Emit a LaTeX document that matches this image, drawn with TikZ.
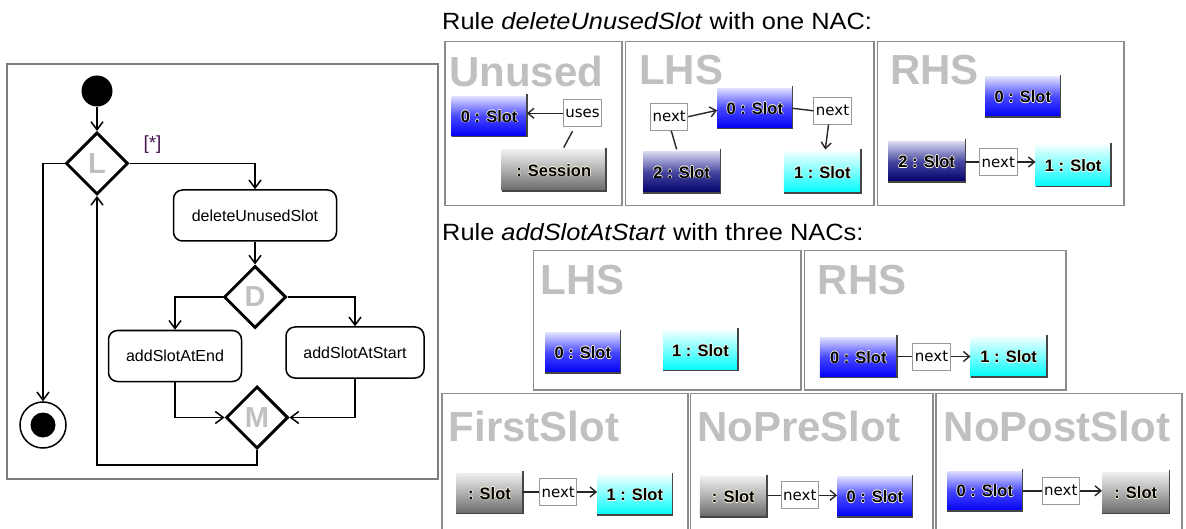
\documentclass[tikz,border=0pt]{standalone}
\usepackage{fontspec}
\setmainfont{Liberation Sans}
\newfontfamily\dv{DejaVu Sans}
\newfontfamily\rulefont[FakeStretch=1.08]{Liberation Sans}
\usetikzlibrary{shapes.geometric,arrows.meta}

\definecolor{framegray}{RGB}{125,125,125}
\definecolor{panelgray}{RGB}{140,140,140}
\definecolor{titlegray}{RGB}{192,192,192}
\definecolor{guardcol}{RGB}{70,20,80}
\definecolor{bevelcol}{RGB}{70,70,70}
\definecolor{haloc}{RGB}{255,250,225}

% text with a thin light glow, as the graph editor draws node labels
\newcommand\halo[1]{{%
  \rlap{\hskip0.7pt\textcolor{haloc}{#1}}%
  \rlap{\hskip-0.7pt\textcolor{haloc}{#1}}%
  \rlap{\raisebox{0.7pt}{\textcolor{haloc}{#1}}}%
  \rlap{\raisebox{-0.7pt}{\textcolor{haloc}{#1}}}%
  #1}}

% raised right and bottom edge of a graph node
\newcommand\bevel[1]{\draw[bevel] ([yshift=2pt]#1.north east) -- (#1.south east) -- (#1.south west);}

\tikzset{
  flow/.style={draw=black, line width=1.5pt},
  flowarr/.style={flow, -{Straight Barb[length=8pt,width=12pt]}},
  act/.style={draw, rounded corners=9pt, line width=1.5pt, minimum height=51pt,
    inner sep=0pt, font=\fontsize{16}{19}\selectfont},
  dec/.style={diamond, draw, aspect=1, line width=3pt, minimum size=62pt,
    inner sep=0pt, font=\bfseries\fontsize{29}{31}\selectfont, text=titlegray},
  panel/.style={draw=panelgray, line width=1.6pt},
  ptitle/.style={anchor=base west, inner sep=0pt,
    font=\bfseries\fontsize{42}{46}\selectfont, text=titlegray},
  rtitle/.style={anchor=base west, inner sep=0pt,
    font=\rulefont\fontsize{23.5}{27}\selectfont},
  slot/.style={inner sep=0pt, minimum width=75pt, minimum height=40pt,
    font=\bfseries\fontsize{16.5}{18}\selectfont},
  blueslot/.style={slot, top color={rgb,255:red,222;green,222;blue,255},
    bottom color={rgb,255:red,0;green,0;blue,245},
    middle color={rgb,255:red,70;green,70;blue,255}},
  navyslot/.style={slot, top color={rgb,255:red,215;green,215;blue,240},
    bottom color={rgb,255:red,0;green,0;blue,105},
    middle color={rgb,255:red,70;green,70;blue,160}},
  cyanslot/.style={slot, top color={rgb,255:red,238;green,255;blue,255},
    bottom color={rgb,255:red,0;green,250;blue,250},
    middle color={rgb,255:red,120;green,255;blue,255}},
  grayslot/.style={slot, minimum width=66pt, top color={rgb,255:red,238;green,238;blue,238},
    bottom color={rgb,255:red,105;green,105;blue,105},
    middle color={rgb,255:red,175;green,175;blue,175}},
  bevel/.style={draw=bevelcol, line width=1.6pt},
  lab/.style={draw=black!40, fill=white, line width=0.8pt, inner xsep=2pt,
    inner ysep=0pt, minimum height=27pt, font=\dv\fontsize{15}{17}\selectfont},
  rel/.style={draw=black!85, line width=1.4pt},
  relarr/.style={rel, -{Straight Barb[length=6pt,width=10pt]}},
}

\begin{document}
\begin{tikzpicture}[x=1pt,y=-1pt]
\useasboundingbox (0,0) rectangle (1186,529);
\clip (0,0) rectangle (1186,529);

% ---------------- activity diagram ----------------
\draw[draw=framegray, line width=2pt] (7,64) rectangle (438,479);

\node[circle, fill=black, inner sep=0pt, minimum size=31pt] (start) at (97,91) {};
\node[dec] (L) at (97,163.5) {L};
\node[act, minimum width=163pt] (del) at (255,215.5) {deleteUnusedSlot};
\node[dec] (D) at (255,297) {D};
\node[act, minimum width=133pt] (aE) at (175,356) {addSlotAtEnd};
\node[act, minimum width=138pt] (aS) at (355,352.5) {addSlotAtStart};
\node[dec] (M) at (257,417.5) {M};
\node[circle, draw, line width=1.5pt, inner sep=0pt, minimum size=46pt] (fin) at (43,425) {};
\node[circle, fill=black, inner sep=0pt, minimum size=25pt] (finDot) at (fin.center) {};
\node[font=\fontsize{19}{22}\selectfont, text=guardcol, inner sep=0pt] (guard) at (152.5,145) {[*]};

\draw[flowarr] (start) -- (L.north);
\draw[flowarr] (L.east) -| (del.north);
\draw[flowarr] (del.south) -- (D.north);
\draw[flowarr] (D.west) -| (aE.north);
\draw[flowarr] (D.east) -| (aS.north);
\draw[flowarr] (aE.south) |- (M.west);
\draw[flowarr] (aS.south) |- (M.east);
\draw[flowarr] (M.south) -- ++(0,15) -| (L.south);
\draw[flowarr] (L.west) -| (fin.north);

% ---------------- rule deleteUnusedSlot ----------------
\node[rtitle] (t1) at (442,29.3) {Rule \textit{deleteUnusedSlot} with one NAC:};

\draw[panel] (445,41.7) rectangle (622,205.5);
\draw[panel] (625.5,41.7) rectangle (874,205.5);
\draw[panel] (877.5,41.7) rectangle (1124,205.5);

% NAC Unused
\node[ptitle] (uT) at (449,86.7) {Unused};
\node[blueslot] (u0) at (489.2,116.3) {\halo{0 : Slot}};
\node[grayslot, minimum width=104pt, minimum height=41pt] (uS) at (553.7,170.3) {\halo{: Session}};
\bevel{u0}\bevel{uS}
\node[lab] (uU) at (582.5,113.3) {uses};
\draw[relarr] (uU.west) -- (uU.west -| u0.east);
\draw[rel] ([xshift=-10pt,yshift=-4pt]uU.south) -- ([xshift=10pt,yshift=2pt]uS.north);

% LHS
\node[ptitle] (lT) at (639,85) {LHS};
\node[blueslot] (l0) at (754.8,108.3) {\halo{0 : Slot}};
\node[navyslot, minimum width=77pt, minimum height=41pt] (l2) at (681.7,172.2) {\halo{2 : Slot}};
\node[cyanslot, minimum width=77pt, minimum height=41pt] (l1) at (822.3,172.2) {\halo{1 : Slot}};
\bevel{l0}\bevel{l2}\bevel{l1}
\node[lab] (ln1) at (669.2,116.7) {next};
\node[lab] (ln2) at (832.5,110.8) {next};
\draw[relarr] (ln1.east) -- ([yshift=-2pt]l0.west);
\draw[rel] ([xshift=2pt]ln1.south) -- ([xshift=-5pt,yshift=2pt]l2.north);
\draw[rel] (l0.east) -- (ln2.west);
\draw[relarr] ([xshift=-4pt]ln2.south) -- ([xshift=3pt,yshift=2pt]l1.north);

% RHS
\node[ptitle] (rT) at (890,85) {RHS};
\node[blueslot] (r0) at (1022.8,97) {\halo{0 : Slot}};
\node[navyslot, minimum width=77pt] (r2) at (926.7,161.7) {\halo{2 : Slot}};
\node[cyanslot, minimum height=41pt] (r1) at (1073.2,165.8) {\halo{1 : Slot}};
\bevel{r0}\bevel{r2}\bevel{r1}
\node[lab] (rn) at (998.3,162) {next};
\draw[rel] (r2.east |- rn.west) -- (rn.west);
\draw[relarr] (rn.east) -- (rn.east -| r1.west);

% ---------------- rule addSlotAtStart ----------------
\node[rtitle] (t2) at (442,241) {Rule \textit{addSlotAtStart} with three NACs:};

\draw[panel] (533.3,250.5) rectangle (801,390);
\draw[panel] (804.5,250.5) rectangle (1066,390);
\draw[panel] (441.7,393.3) rectangle (688,545);
\draw[panel] (690.5,393.3) rectangle (933,545);
\draw[panel] (936,393.3) rectangle (1181.7,545);

% LHS
\node[ptitle] (aT) at (540.5,295) {LHS};
\node[blueslot] (a0) at (582.8,352.7) {\halo{0 : Slot}};
\node[cyanslot] (a1) at (700.5,350.3) {\halo{1 : Slot}};
\bevel{a0}\bevel{a1}

% RHS
\node[ptitle] (bT) at (817.7,295) {RHS};
\node[blueslot, minimum width=77pt] (b0) at (858.3,357.3) {\halo{0 : Slot}};
\node[cyanslot, minimum width=76pt] (b1) at (1008.7,357) {\halo{1 : Slot}};
\bevel{b0}\bevel{b1}
\node[lab] (bn) at (931.5,356.5) {next};
\draw[rel] (b0.east |- bn.west) -- (bn.west);
\draw[relarr] (bn.east) -- (bn.east -| b1.west);

% NAC FirstSlot
\node[ptitle] (fT) at (448.7,441.7) {FirstSlot};
\node[grayslot] (fs) at (489.5,493.3) {\halo{: Slot}};
\node[cyanslot] (f1) at (634.8,495) {\halo{1 : Slot}};
\bevel{fs}\bevel{f1}
\node[lab] (fn) at (558.2,492) {next};
\draw[rel] (fs.east |- fn.west) -- (fn.west);
\draw[relarr] (fn.east) -- (fn.east -| f1.west);

% NAC NoPreSlot
\node[ptitle] (pT) at (697,441.7) {NoPreSlot};
\node[grayslot, minimum width=67pt] (ps) at (733.3,496.7) {\halo{: Slot}};
\node[blueslot] (p0) at (874.8,496.7) {\halo{0 : Slot}};
\bevel{ps}\bevel{p0}
\node[lab] (pn) at (799.8,495.3) {next};
\draw[rel] (ps.east |- pn.west) -- (pn.west);
\draw[relarr] (pn.east) -- (pn.east -| p0.west);

% NAC NoPostSlot
\node[ptitle] (qT) at (943.7,441) {NoPostSlot};
\node[blueslot] (q0) at (984.8,491) {\halo{0 : Slot}};
\node[grayslot, minimum width=67pt, minimum height=41pt] (qs) at (1135.7,492.8) {\halo{: Slot}};
\bevel{q0}\bevel{qs}
\node[lab] (qn) at (1060.8,490.8) {next};
\draw[rel] (q0.east |- qn.west) -- (qn.west);
\draw[relarr] (qn.east) -- (qn.east -| qs.west);

\end{tikzpicture}
\end{document}
